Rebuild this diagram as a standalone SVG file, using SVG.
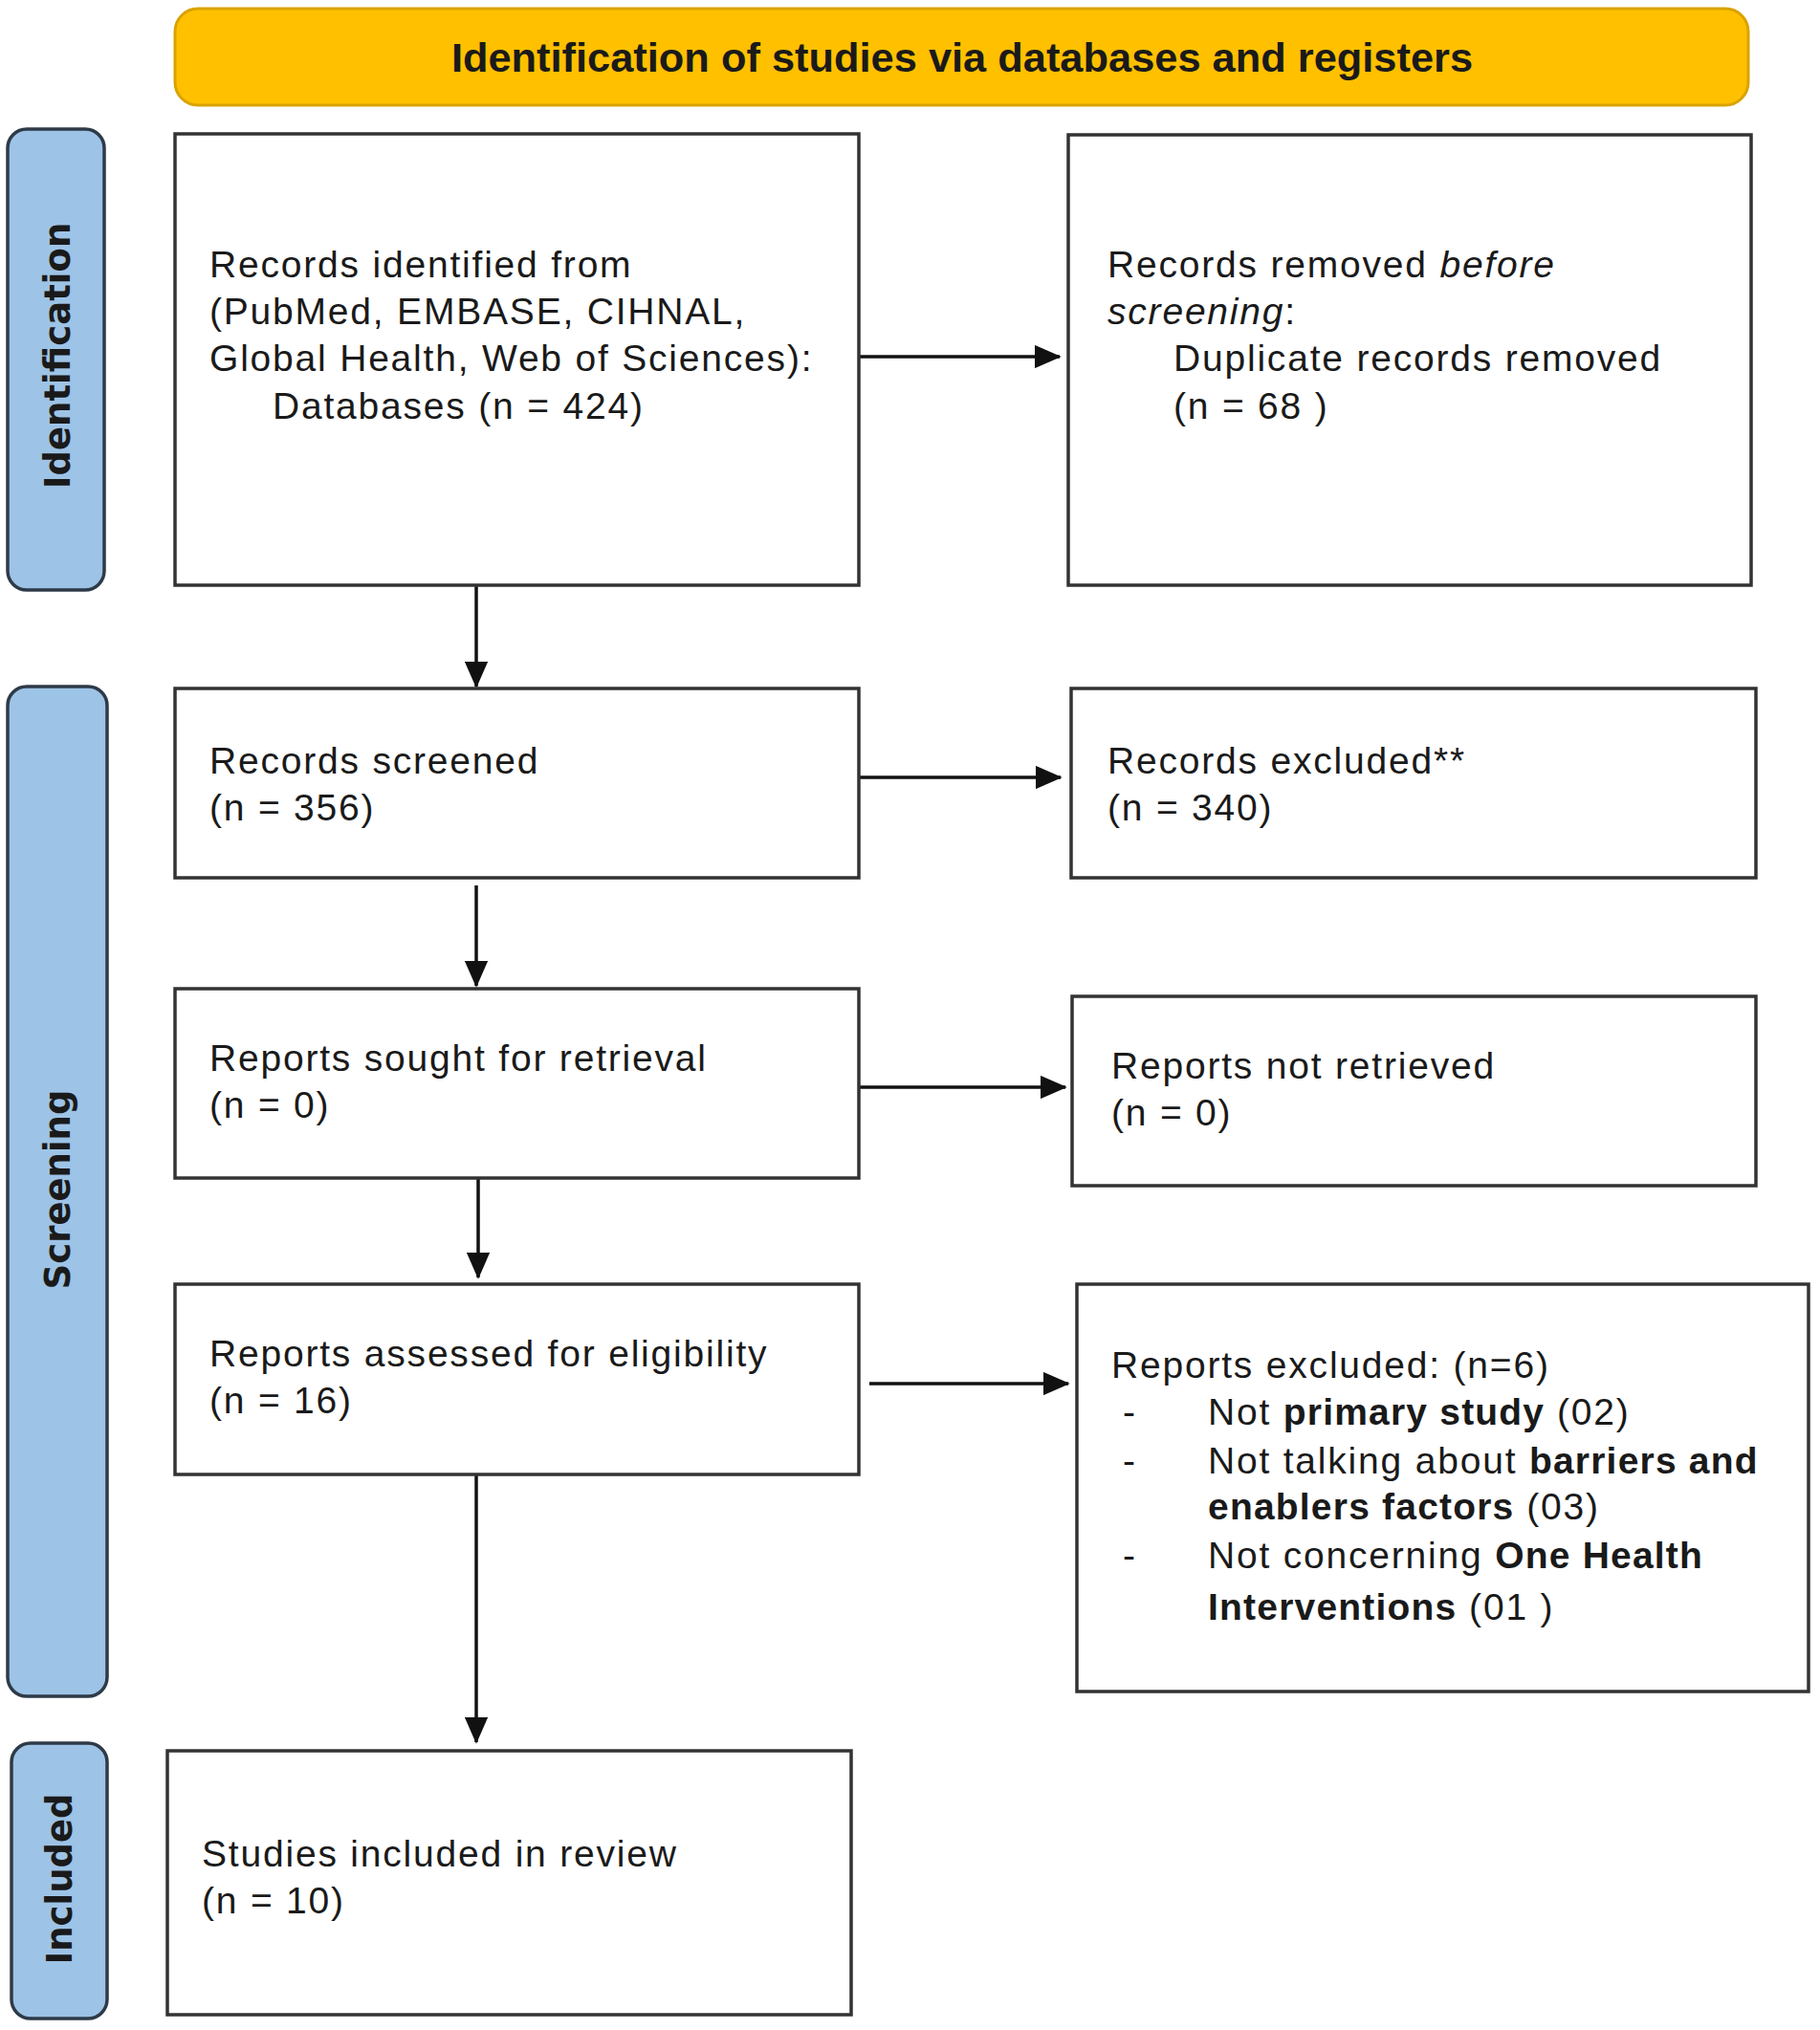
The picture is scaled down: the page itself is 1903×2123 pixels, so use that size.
<svg xmlns="http://www.w3.org/2000/svg" width="1903" height="2123" viewBox="0 0 1903 2123">
<style>
.box{fill:#fff;stroke:#333;stroke-width:3.5}
.side{fill:#9DC3E6;stroke:#2E3A48;stroke-width:3.5}
.hdr{fill:#FFC000;stroke:#D9A300;stroke-width:3}
.t{font-family:"Liberation Sans",Arial,sans-serif;font-size:39px;letter-spacing:1.8px;fill:#1a1a1a}
.b{font-weight:bold;letter-spacing:1.2px}
.i{font-style:italic}
.ht{font-family:"Liberation Sans",Arial,sans-serif;font-size:43.4px;font-weight:bold;fill:#1a1a1a}
.st{font-family:"DejaVu Sans",sans-serif;font-size:37px;font-weight:bold;fill:#1a1a1a}
.c{stroke:#111;stroke-width:3.5;fill:none}
</style>
<defs>
<marker id="ah" markerWidth="8" markerHeight="7" refX="7.5" refY="3.5" orient="auto" markerUnits="strokeWidth">
<path d="M0,0 L8,3.5 L0,7 Z" fill="#111"/>
</marker>
</defs>
<rect width="1903" height="2123" fill="#fff"/>

<g id="header">
<rect class="hdr" x="183" y="9" width="1645" height="101" rx="24"/>
<text class="ht" x="1006" y="75" text-anchor="middle">Identification of studies via databases and registers</text>
</g>

<g id="label-identification">
<rect class="side" x="8" y="135" width="101" height="482" rx="20"/>
<text class="st" transform="translate(60,372) rotate(-90)" y="13" text-anchor="middle">Identification</text>
</g>
<g id="label-screening">
<rect class="side" x="8" y="718" width="104" height="1056" rx="20"/>
<text class="st" transform="translate(60,1244) rotate(-90)" y="13" text-anchor="middle">Screening</text>
</g>
<g id="label-included">
<rect class="side" x="12" y="1823" width="100" height="288" rx="20"/>
<text class="st" transform="translate(62,1965) rotate(-90)" y="13" text-anchor="middle">Included</text>
</g>

<g id="connectors">
<line class="c" x1="898" y1="373" x2="1108" y2="373" marker-end="url(#ah)"/>
<line class="c" x1="498" y1="612" x2="498" y2="718" marker-end="url(#ah)"/>
<line class="c" x1="898" y1="813" x2="1109" y2="813" marker-end="url(#ah)"/>
<line class="c" x1="498" y1="926" x2="498" y2="1031" marker-end="url(#ah)"/>
<line class="c" x1="898" y1="1137" x2="1114" y2="1137" marker-end="url(#ah)"/>
<line class="c" x1="500" y1="1232" x2="500" y2="1336" marker-end="url(#ah)"/>
<line class="c" x1="909" y1="1447" x2="1117" y2="1447" marker-end="url(#ah)"/>
<line class="c" x1="498" y1="1542" x2="498" y2="1822" marker-end="url(#ah)"/>
</g>

<g id="records-identified">
<rect class="box" x="183" y="140" width="715" height="472"/>
<text class="t" x="219" y="290">Records identified from</text>
<text class="t" x="219" y="339">(PubMed, EMBASE, CIHNAL,</text>
<text class="t" x="219" y="388">Global Health, Web of Sciences):</text>
<text class="t" x="285" y="438">Databases (n = 424)</text>
</g>

<g id="records-removed">
<rect class="box" x="1117" y="141" width="714" height="471"/>
<text class="t" x="1158" y="290">Records removed <tspan class="i">before</tspan></text>
<text class="t" x="1158" y="339"><tspan class="i">screening</tspan>:</text>
<text class="t" x="1227" y="388">Duplicate records removed</text>
<text class="t" x="1227" y="438">(n = 68 )</text>
</g>

<g id="records-screened">
<rect class="box" x="183" y="720" width="715" height="198"/>
<text class="t" x="219" y="809">Records screened</text>
<text class="t" x="219" y="858">(n = 356)</text>
</g>

<g id="records-excluded">
<rect class="box" x="1120" y="720" width="716" height="198"/>
<text class="t" x="1158" y="809">Records excluded**</text>
<text class="t" x="1158" y="858">(n = 340)</text>
</g>

<g id="reports-sought">
<rect class="box" x="183" y="1034" width="715" height="198"/>
<text class="t" x="219" y="1120">Reports sought for retrieval</text>
<text class="t" x="219" y="1169">(n = 0)</text>
</g>

<g id="reports-not-retrieved">
<rect class="box" x="1121" y="1042" width="715" height="198"/>
<text class="t" x="1162" y="1128">Reports not retrieved</text>
<text class="t" x="1162" y="1177">(n = 0)</text>
</g>

<g id="reports-assessed">
<rect class="box" x="183" y="1343" width="715" height="199"/>
<text class="t" x="219" y="1429">Reports assessed for eligibility</text>
<text class="t" x="219" y="1478">(n = 16)</text>
</g>

<g id="reports-excluded">
<rect class="box" x="1126" y="1343" width="765" height="426"/>
<text class="t" x="1162" y="1441">Reports excluded: (n=6)</text>
<text class="t" x="1174" y="1490">-</text>
<text class="t" x="1263" y="1490">Not <tspan class="b">primary study</tspan> (02)</text>
<text class="t" x="1174" y="1541">-</text>
<text class="t" x="1263" y="1541">Not talking about <tspan class="b">barriers and</tspan></text>
<text class="t" x="1263" y="1589"><tspan class="b">enablers factors</tspan> (03)</text>
<text class="t" x="1174" y="1640">-</text>
<text class="t" x="1263" y="1640">Not concerning <tspan class="b">One Health</tspan></text>
<text class="t" x="1263" y="1694"><tspan class="b">Interventions</tspan> (01 )</text>
</g>

<g id="studies-included">
<rect class="box" x="175" y="1831" width="715" height="276"/>
<text class="t" x="211" y="1952">Studies included in review</text>
<text class="t" x="211" y="2001">(n = 10)</text>
</g>
</svg>
